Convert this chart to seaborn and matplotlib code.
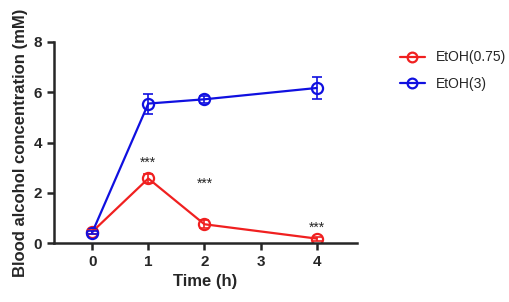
import pandas as pd
import numpy as np
import seaborn as sns
import matplotlib.pyplot as plt
from matplotlib.lines import Line2D

# data
time = [0, 1, 2, 4]
low_mean = [0.45, 2.57, 0.75, 0.18]
low_err = [0.08, 0.17, 0.15, 0.08]
high_mean = [0.42, 5.55, 5.72, 6.17]
high_err = [0.06, 0.40, 0.15, 0.42]
groups = ['EtOH(0.75)', 'EtOH(3)']
colors = ['#f02020', '#1010e0']
star_x = [1, 2, 4]
star_y = [3.2, 2.35, 0.6]

df = pd.DataFrame({
    'Time': time * 2,
    'Conc': low_mean + high_mean,
    'Group': [groups[0]] * 4 + [groups[1]] * 4,
})

sns.set_style('ticks')
plt.rcParams['font.family'] = ['Liberation Sans', 'DejaVu Sans']

fig = plt.figure(figsize=(5.1, 3.02), dpi=100)
ax = fig.add_axes([0.106, 0.195, 0.594, 0.666])

sns.lineplot(data=df, x='Time', y='Conc', hue='Group', palette=colors,
             marker='o', markersize=8, markerfacecolor='none', markeredgewidth=1.6,
             linewidth=1.6, ax=ax, legend=False)
for line, c in zip(ax.lines, colors):
    line.set_markeredgecolor(c)

ax.errorbar(time, low_mean, yerr=low_err, fmt='none', ecolor=colors[0],
            elinewidth=1.2, capsize=3.5, capthick=1.2)
ax.errorbar(time, high_mean, yerr=high_err, fmt='none', ecolor=colors[1],
            elinewidth=1.2, capsize=3.5, capthick=1.2)

for x, y in zip(star_x, star_y):
    ax.text(x, y, '***', ha='center', va='center', fontsize=10)

ax.set_xlim(-0.68, 4.72)
ax.set_ylim(0, 8)
ax.set_xticks([0, 1, 2, 3, 4])
ax.set_yticks([0, 2, 4, 6, 8])
ax.set_xlabel('Time (h)', fontsize=12, fontweight='bold')
ax.set_ylabel('Blood alcohol concentration (mM)', fontsize=12, fontweight='bold')
for lab in ax.get_xticklabels() + ax.get_yticklabels():
    lab.set_fontweight('bold')
ax.tick_params(labelsize=11, width=1.8, length=5)
sns.despine(ax=ax)
for s in ['left', 'bottom']:
    ax.spines[s].set_linewidth(1.8)

handles = [Line2D([], [], color=c, marker='o', markerfacecolor='none',
                  markeredgewidth=1.6, markersize=7, linewidth=1.6) for c in colors]
ax.legend(handles=handles, labels=groups, loc='upper left',
          bbox_to_anchor=(1.1, 1.02), frameon=False, fontsize=10,
          handlelength=1.8, labelspacing=0.9)

fig.savefig('out.png', dpi=100)
